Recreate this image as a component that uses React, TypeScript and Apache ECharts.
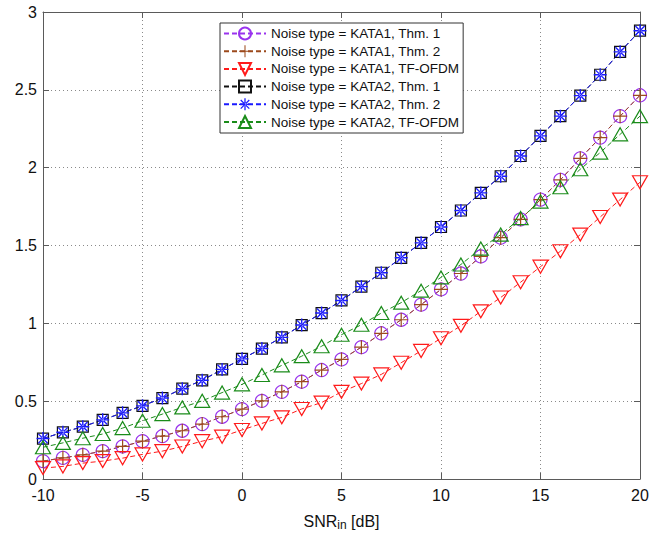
import React, { useEffect, useRef } from "react";
import * as echarts from "echarts";

const snr = [-10, -9, -8, -7, -6, -5, -4, -3, -2, -1, 0, 1, 2, 3, 4, 5, 6, 7, 8, 9, 10, 11, 12, 13, 14, 15, 16, 17, 18, 19, 20];
const kata1Thm1 = [0.115, 0.136, 0.155, 0.179, 0.209, 0.243, 0.276, 0.31, 0.353, 0.4, 0.449, 0.502, 0.56, 0.625, 0.7, 0.768, 0.847, 0.936, 1.023, 1.12, 1.218, 1.32, 1.43, 1.55, 1.668, 1.795, 1.922, 2.06, 2.193, 2.331, 2.465];
const kata1Thm2 = [0.115, 0.136, 0.155, 0.179, 0.209, 0.243, 0.276, 0.31, 0.353, 0.4, 0.449, 0.502, 0.56, 0.625, 0.7, 0.768, 0.847, 0.936, 1.023, 1.12, 1.218, 1.32, 1.43, 1.55, 1.668, 1.795, 1.922, 2.06, 2.193, 2.331, 2.465];
const kata1Tf = [0.07, 0.081, 0.102, 0.115, 0.134, 0.158, 0.179, 0.209, 0.243, 0.272, 0.315, 0.357, 0.396, 0.45, 0.491, 0.56, 0.613, 0.672, 0.747, 0.823, 0.904, 0.984, 1.077, 1.166, 1.264, 1.364, 1.463, 1.57, 1.683, 1.795, 1.906];
const kata2Thm1 = [0.26, 0.3, 0.336, 0.38, 0.425, 0.47, 0.52, 0.58, 0.634, 0.704, 0.772, 0.838, 0.91, 0.989, 1.066, 1.147, 1.236, 1.325, 1.421, 1.517, 1.619, 1.725, 1.838, 1.945, 2.075, 2.204, 2.331, 2.463, 2.597, 2.744, 2.88];
const kata2Thm2 = [0.26, 0.3, 0.336, 0.38, 0.425, 0.47, 0.52, 0.58, 0.634, 0.704, 0.772, 0.838, 0.91, 0.989, 1.066, 1.147, 1.236, 1.325, 1.421, 1.517, 1.619, 1.725, 1.838, 1.945, 2.075, 2.204, 2.331, 2.463, 2.597, 2.744, 2.88];
const kata2Tf = [0.204, 0.232, 0.262, 0.289, 0.327, 0.374, 0.417, 0.46, 0.502, 0.555, 0.608, 0.668, 0.73, 0.789, 0.853, 0.927, 0.991, 1.066, 1.133, 1.21, 1.295, 1.378, 1.48, 1.57, 1.676, 1.782, 1.874, 1.99, 2.097, 2.214, 2.331];

const seriesNames = [
  "Noise type = KATA1, Thm. 1",
  "Noise type = KATA1, Thm. 2",
  "Noise type = KATA1, TF-OFDM",
  "Noise type = KATA2, Thm. 1",
  "Noise type = KATA2, Thm. 2",
  "Noise type = KATA2, TF-OFDM",
];

const FONT = "Liberation Sans, Arial, Helvetica, sans-serif";
const PLUS = "path://M-0.6,-7 L0.6,-7 L0.6,-0.6 L7,-0.6 L7,0.6 L0.6,0.6 L0.6,7 L-0.6,7 L-0.6,0.6 L-7,0.6 L-7,-0.6 L-0.6,-0.6 Z";
const STAR = "path://M-0.75,-7 L0.75,-7 L0.75,-0.75 L7,-0.75 L7,0.75 L0.75,0.75 L0.75,7 L-0.75,7 L-0.75,0.75 L-7,0.75 L-7,-0.75 L-0.75,-0.75 Z M-5.5,-4.5 L4.5,5.5 L5.5,4.5 L-4.5,-5.5 Z M-5.5,4.5 L-4.5,5.5 L5.5,-4.5 L4.5,-5.5 Z";

function mk(name: string, ys: number[], color: string, symbol: string, size: any, hollow: boolean, rotate = 0) {
  return {
    name,
    type: "line",
    data: snr.map((x, i) => [x, ys[i]]),
    symbol,
    symbolSize: size,
    symbolRotate: rotate,
    showAllSymbol: true,
    color,
    lineStyle: { color, width: 1, type: [5, 3] },
    itemStyle: hollow
      ? { color: "rgba(0,0,0,0)", borderColor: color, borderWidth: 1.2 }
      : { color, borderWidth: 0 },
    emphasis: { disabled: true },
  };
}

export default function App() {
  const ref = useRef<HTMLDivElement>(null);
  useEffect(() => {
    const chart = echarts.init(ref.current!, null, { renderer: "svg" });
    const axisLine = () => ({ show: true, onZero: false, lineStyle: { color: "#5a5a5a", width: 1 } });
    const tick = () => ({ show: true, inside: true, length: 6, lineStyle: { color: "#5a5a5a" } });
    const split = () => ({ show: true, lineStyle: { color: "#8a8a8a", type: [1, 3], width: 1 } });
    chart.setOption({
      animation: false,
      textStyle: { fontFamily: FONT },
      grid: { left: 43, right: 25, top: 12, bottom: 54 },
      legend: {
        orient: "vertical",
        left: 220,
        top: 23,
        padding: [3.5, 4, 4, 3],
        itemWidth: 42,
        itemHeight: 15,
        itemGap: 3.7,
        backgroundColor: "#fff",
        borderColor: "#333",
        borderWidth: 1,
        borderRadius: 0,
        textStyle: { fontSize: 13.5, color: "#111", fontFamily: FONT },
        data: seriesNames,
      },
      xAxis: [
        {
          type: "value",
          min: -10,
          max: 20,
          interval: 5,
          axisLine: axisLine(),
          axisTick: tick(),
          axisLabel: { fontSize: 16, color: "#111", margin: 8, fontFamily: FONT },
          splitLine: split(),
          name: "{a|SNR}{b|in}{a| [dB]}",
          nameLocation: "middle",
          nameGap: 32,
          nameTextStyle: {
            rich: {
              a: { fontSize: 16, color: "#111", fontFamily: FONT, lineHeight: 18 },
              b: { fontSize: 12, color: "#111", fontFamily: FONT, verticalAlign: "bottom", padding: [8, 0, 0, 0] },
            },
          },
        },
        {
          type: "value",
          position: "top",
          min: -10,
          max: 20,
          interval: 5,
          axisLine: axisLine(),
          axisTick: tick(),
          axisLabel: { show: false },
          splitLine: split(),
        },
      ],
      yAxis: [
        {
          type: "value",
          min: 0,
          max: 3,
          interval: 0.5,
          axisLine: axisLine(),
          axisTick: tick(),
          axisLabel: { fontSize: 16, color: "#111", margin: 6, fontFamily: FONT },
          splitLine: split(),
        },
        {
          type: "value",
          position: "right",
          min: 0,
          max: 3,
          interval: 0.5,
          axisLine: axisLine(),
          axisTick: tick(),
          axisLabel: { show: false },
          splitLine: split(),
        },
      ],
      series: [
        mk(seriesNames[0], kata1Thm1, "#9933ee", "circle", 13, true),
        mk(seriesNames[1], kata1Thm2, "#9c4a1c", PLUS, 14, false),
        mk(seriesNames[2], kata1Tf, "#ff1a1a", "triangle", [15, 13], true, 180),
        mk(seriesNames[3], kata2Thm1, "#111111", "rect", 11, true),
        mk(seriesNames[4], kata2Thm2, "#1a1aff", STAR, 13, false),
        mk(seriesNames[5], kata2Tf, "#1a8c1a", "triangle", [15, 13], true),
      ],
    });
    return () => chart.dispose();
  }, []);
  return <div ref={ref} style={{ position: "fixed", left: 0, top: 0, width: 665, height: 536, background: "#fff" }} />;
}
